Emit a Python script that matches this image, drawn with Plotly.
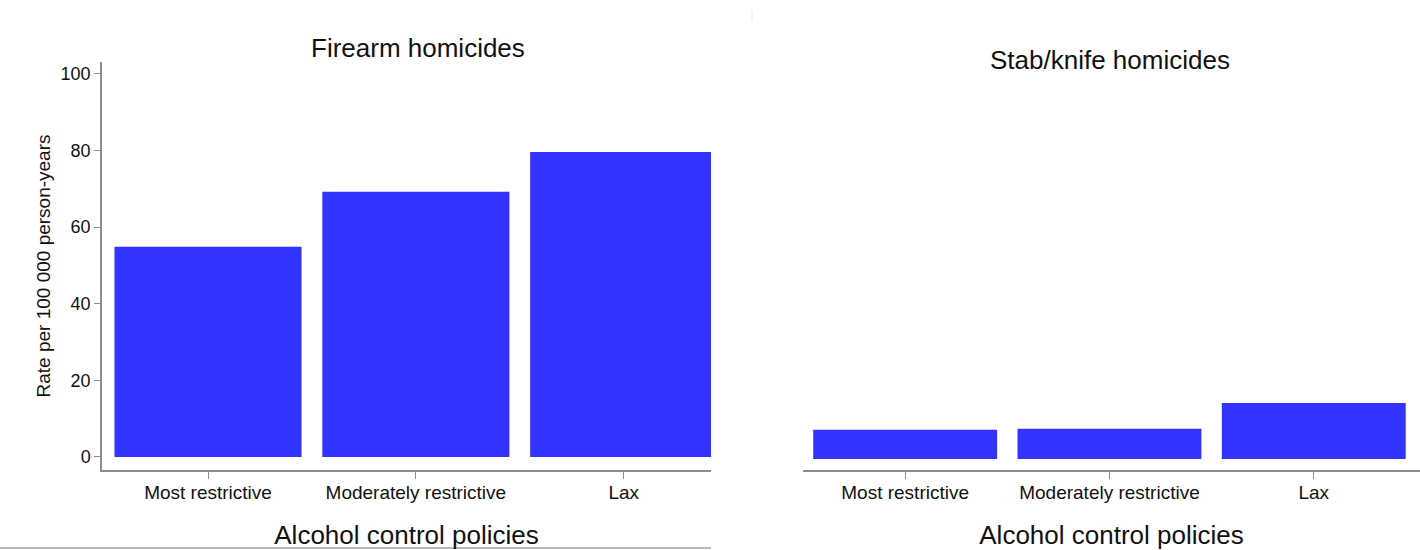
import plotly.graph_objects as go

categories = ["Most restrictive", "Moderately restrictive", "Lax"]
firearm_rates = [54.9, 69.2, 79.6]
stab_rates = [7.6, 7.9, 14.6]
y_ticks = [0, 20, 40, 60, 80, 100]

W, H = 1420, 550
BAR = "#3333ff"
AX = "#8c8c8c"
FONT = "Liberation Sans, Arial, sans-serif"

def px_x(p):
    return p / W

def px_y(p):
    return (H - p) / H

fig = go.Figure()
fig.add_trace(go.Bar(x=categories, y=firearm_rates, marker=dict(color=BAR, line=dict(width=0)),
                     xaxis="x", yaxis="y", showlegend=False))
fig.add_trace(go.Bar(x=categories, y=stab_rates, marker=dict(color=BAR, line=dict(width=0)),
                     xaxis="x2", yaxis="y2", showlegend=False))

ydom = [px_y(470), px_y(62)]
common_x = dict(showgrid=False, zeroline=False, showline=True, linecolor=AX, linewidth=1.5,
                ticks="outside", ticklen=7, tickcolor=AX, tickwidth=1.2, ticklabelstandoff=-3,
                tickfont=dict(size=19, color="#111", family=FONT), type="category",
                title=dict(text="Alcohol control policies", font=dict(size=26, color="#111", family=FONT),
                           standoff=24))

fig.update_layout(
    width=W, height=H,
    margin=dict(l=0, r=0, t=0, b=0),
    paper_bgcolor="white", plot_bgcolor="white",
    bargap=0.1,
    font=dict(family=FONT, color="#111"),
    xaxis=dict(domain=[px_x(102), px_x(711)], anchor="y", range=[-0.51, 2.42], **common_x),
    yaxis=dict(domain=ydom, anchor="x", range=[-3.4, 103.1], tickvals=y_ticks,
               showgrid=False, zeroline=False, showline=True, linecolor=AX, linewidth=1.5,
               ticks="outside", ticklen=6, tickcolor=AX, tickwidth=1.2,
               tickfont=dict(size=18, color="#111", family=FONT),
               title=dict(text="Rate per 100 000 person-years", font=dict(size=19, color="#111", family=FONT),
                          standoff=5)),
    xaxis2=dict(domain=[px_x(803), 1.0], anchor="y2", range=[-0.5, 2.52], **common_x),
    yaxis2=dict(domain=ydom, anchor="x2", range=[-2.9, 103.6], visible=False),
    annotations=[
        dict(text="Firearm homicides", x=px_x(418), y=px_y(48), xref="paper", yref="paper",
             showarrow=False, font=dict(size=26, color="#111", family=FONT), xanchor="center", yanchor="middle"),
        dict(text="Stab/knife homicides", x=px_x(1110), y=px_y(60), xref="paper", yref="paper",
             showarrow=False, font=dict(size=26, color="#111", family=FONT), xanchor="center", yanchor="middle"),
    ],
    shapes=[
        dict(type="line", xref="paper", yref="paper", x0=0, x1=px_x(711), y0=px_y(548), y1=px_y(548),
             line=dict(color="#bbbbbb", width=2)),
        dict(type="line", xref="paper", yref="paper", x0=px_x(752), x1=px_x(752), y0=px_y(10), y1=px_y(21),
             line=dict(color="#e6e6e6", width=1)),
    ],
)

fig.write_html("out.html", config={"displayModeBar": False},
               post_script="document.body.style.margin='0';document.body.style.padding='0';")
